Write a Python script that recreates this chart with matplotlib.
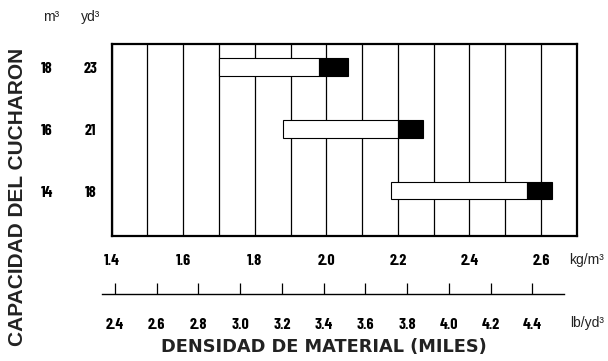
import numpy as np
import matplotlib
matplotlib.use('Agg')
import matplotlib.pyplot as plt

# bucket capacities (top to bottom)
cap_m3 = ['18', '16', '14']
cap_yd3 = ['23', '21', '18']
# material density range, thousands of kg/m3
dens_start = [1.70, 1.88, 2.18]
dens_black = [1.98, 2.20, 2.56]
dens_end = [2.06, 2.27, 2.63]

kg_ticks = [1.4, 1.6, 1.8, 2.0, 2.2, 2.4, 2.6]
lb_ticks = [2.4, 2.6, 2.8, 3.0, 3.2, 3.4, 3.6, 3.8, 4.0, 4.2, 4.4]

W, H = 608, 361
narrow = ['Barlow Condensed', 'DejaVu Sans']
plain = ['Liberation Sans', 'DejaVu Sans']
nfs = 11.5

fig = plt.figure(figsize=(W / 100, H / 100), dpi=100)

def px_axes(x0, y0, x1, y1):
    return fig.add_axes([x0 / W, 1 - y1 / H, (x1 - x0) / W, (y1 - y0) / H])

ax = px_axes(111.7, 44, 576.7, 236)
rows = np.arange(len(cap_m3))
h = 0.28
ax.barh(rows, np.array(dens_black) - np.array(dens_start), left=dens_start, height=h,
        color='white', edgecolor='black', linewidth=0.8, zorder=3)
ax.barh(rows, np.array(dens_end) - np.array(dens_black), left=dens_black, height=h,
        color='black', edgecolor='black', linewidth=0.8, zorder=3)
ax.set_xlim(1.4, 2.7)
ax.set_ylim(2.73, -0.37)
ax.set_xticks(kg_ticks)
ax.set_xticklabels([f'{v:.1f}' for v in kg_ticks], family=narrow, weight='bold', fontsize=nfs)
ax.set_xticks(np.arange(1.5, 2.7, 0.1), minor=True)
ax.tick_params(axis='x', which='both', length=0, pad=13)
ax.grid(axis='x', which='both', color='black', linewidth=0.9)
ax.set_axisbelow(True)
ax.set_yticks([])
for s in ax.spines.values():
    s.set_linewidth(1.6)

for i in rows:
    ax.text(-0.14, i + 0.03, cap_m3[i], transform=ax.get_yaxis_transform(which='grid'),
            ha='center', va='center', family=narrow, weight='bold', fontsize=nfs)
    ax.text(-0.046, i + 0.03, cap_yd3[i], transform=ax.get_yaxis_transform(which='grid'),
            ha='center', va='center', family=narrow, weight='bold', fontsize=nfs)

fig.text(51 / W, 1 - 17 / H, 'm³', ha='center', va='center', family=plain, fontsize=10, color='#222')
fig.text(91 / W, 1 - 17 / H, 'yd³', ha='center', va='center', family=plain, fontsize=10, color='#222')
fig.text(587 / W, 1 - 260 / H, 'kg/m³', ha='center', va='center', family=plain, fontsize=10, color='#222')
fig.text(587 / W, 1 - 323 / H, 'lb/yd³', ha='center', va='center', family=plain, fontsize=10, color='#222')

# lb/yd3 scale
ax2 = px_axes(101.7, 270, 564, 294.3)
ax2.set_xlim(2.336, 4.552)
ax2.set_ylim(0, 1)
for k in ['top', 'left', 'right']:
    ax2.spines[k].set_visible(False)
ax2.spines['bottom'].set_linewidth(1.0)
ax2.patch.set_alpha(0)
ax2.set_yticks([])
ax2.set_xticks(lb_ticks)
ax2.set_xticklabels([f'{v:.1f}' for v in lb_ticks], family=narrow, weight='bold', fontsize=nfs)
ax2.tick_params(axis='x', direction='in', length=8, width=0.9, pad=17)

fig.text(324 / W, 1 - 347 / H, 'DENSIDAD DE MATERIAL (MILES)', ha='center', va='center',
         family=['DejaVu Sans'], weight='bold', fontsize=12.8, color='#222')
fig.text(17.5 / W, 1 - 196.5 / H, 'CAPACIDAD DEL CUCHARON', ha='center', va='center', rotation=90,
         family=plain, weight='bold', fontsize=15, color='#222')

fig.savefig('out.png', dpi=100)
